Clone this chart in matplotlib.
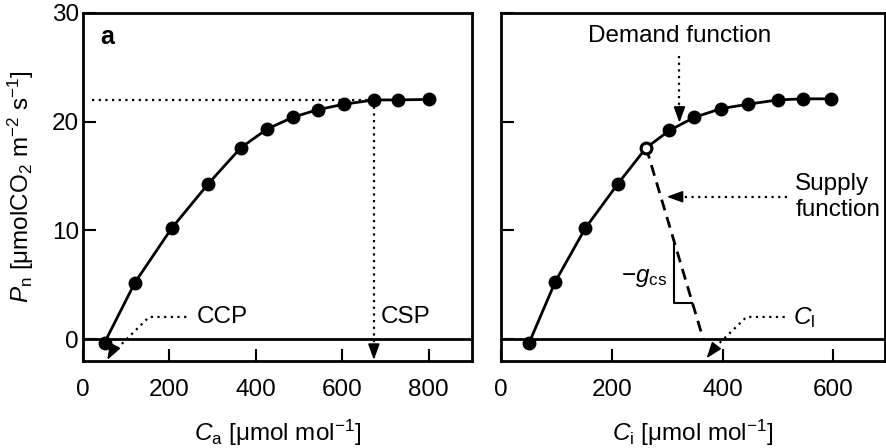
import numpy as np
import matplotlib.pyplot as plt

plt.rcParams['font.family'] = ['Liberation Sans', 'DejaVu Sans']
plt.rcParams['mathtext.fontset'] = 'custom'
plt.rcParams['mathtext.rm'] = 'Liberation Sans'
plt.rcParams['mathtext.it'] = 'Liberation Sans:italic'
plt.rcParams['mathtext.bf'] = 'Liberation Sans:bold'
FS = 17.5
plt.rcParams['font.size'] = FS

# panel a: Pn vs Ca
ca = [50, 120, 205, 290, 365, 425, 485, 543, 603, 673, 729, 801]
pn_a = [-0.3, 5.2, 10.2, 14.3, 17.6, 19.3, 20.4, 21.1, 21.6, 22.0, 22.0, 22.05]
# panel b: Pn vs Ci (open point = operating point)
ci = [51, 98, 152, 211, 262, 304, 349, 397, 445, 499, 545, 595]
pn_b = [-0.3, 5.3, 10.2, 14.3, 17.6, 19.2, 20.4, 21.2, 21.6, 22.0, 22.1, 22.1]
i_op = 4
pn_max = 22.0
csp = 673
ci_l = 365

fig = plt.figure(figsize=(8.86, 4.48), dpi=100)
ax1 = fig.add_axes([0.0937, 0.1942, 0.439, 0.777])
ax2 = fig.add_axes([0.5655, 0.1942, 0.4334, 0.777])

dot = (0, (1, 2))


def arrowhead(ax, tip, tail):
    ax.annotate('', xy=tip, xytext=tail,
                arrowprops=dict(arrowstyle='-|>,head_length=0.55,head_width=0.2',
                                lw=1.2, color='k', shrinkA=0, shrinkB=0))


for ax in (ax1, ax2):
    ax.set_ylim(-2, 30)
    ax.set_yticks([0, 10, 20, 30])
    ax.axhline(0, color='k', lw=2, zorder=1)
    ax.tick_params(direction='in', length=9, width=1.5, labelsize=FS)
    ax.tick_params(axis='x', pad=13)
    ax.tick_params(axis='y', pad=3)
    for s in ax.spines.values():
        s.set_linewidth(2)

# ---- panel a
ax1.set_xlim(0, 900)
ax1.set_xticks([0, 200, 400, 600, 800])
ax1.plot(ca, pn_a, '-o', color='k', lw=2, ms=9, zorder=3)
ax1.plot([20, csp], [pn_max, pn_max], color='k', lw=1.6, ls=dot, zorder=2)
ax1.plot([csp, csp], [pn_max, -1.0], color='k', lw=1.6, ls=dot, zorder=2)
arrowhead(ax1, (csp, -1.9), (csp, -0.6))
ax1.plot([239, 153, 75], [2.05, 2.05, -1.0], color='k', lw=1.6, ls=dot)
arrowhead(ax1, (56, -1.9), (70, -0.9))
ax1.text(263, 2.0, 'CCP', ha='left', va='center', fontsize=FS)
ax1.text(688, 2.0, 'CSP', ha='left', va='center', fontsize=FS)
ax1.text(0.044, 0.93, 'a', transform=ax1.transAxes, fontweight='bold',
         fontsize=18, va='center')
ax1.set_ylabel(r'$P_\mathrm{n}$ [μmolCO$_2$ m$^{-2}$ s$^{-1}$]', fontsize=FS, labelpad=11)
ax1.set_xlabel(r'$C_\mathrm{a}$ [μmol mol$^{-1}$]', fontsize=FS, labelpad=12)

# ---- panel b
ax2.set_xlim(0, 693)
ax2.set_xticks([0, 200, 400, 600])
ax2.tick_params(axis='y', labelleft=False)
ax2.plot(ci, pn_b, '-o', color='k', lw=2, ms=9, zorder=3)
ax2.plot(ci[i_op], pn_b[i_op], 'o', color='k', mfc='white', ms=7, mew=1.5, zorder=4)
ax2.plot([ci[i_op], ci_l], [pn_b[i_op], 0], color='k', lw=2, ls=(0, (4, 2.5)), zorder=2)
# slope triangle
ax2.plot([313, 313, 345], [9.1, 3.35, 3.35], color='k', lw=1.5)
ax2.text(299, 5.6, r'$-g_\mathrm{cs}$', ha='right', va='center', fontsize=FS)
# demand function
ax2.text(323, 27.85, 'Demand function', ha='center', va='center', fontsize=FS)
ax2.plot([322, 322], [26.0, 21.2], color='k', lw=1.6, ls=dot)
arrowhead(ax2, (322, 19.9), (322, 21.4))
# supply function
ax2.text(531, 13.1, 'Supply\nfunction', ha='left', va='center', fontsize=FS,
         linespacing=1.25)
ax2.plot([516, 312], [13.1, 13.1], color='k', lw=1.6, ls=dot)
arrowhead(ax2, (299, 13.1), (318, 13.1))
# Ci label
ax2.plot([512, 443, 385], [2.05, 2.05, -0.8], color='k', lw=1.6, ls=dot)
arrowhead(ax2, (371, -1.75), (387, -0.7))
ax2.text(527, 2.0, r'$C_\mathrm{l}$', ha='left', va='center', fontsize=FS)
ax2.set_xlabel(r'$C_\mathrm{i}$ [μmol mol$^{-1}$]', fontsize=FS, labelpad=12)

fig.savefig('out.png', dpi=100)
